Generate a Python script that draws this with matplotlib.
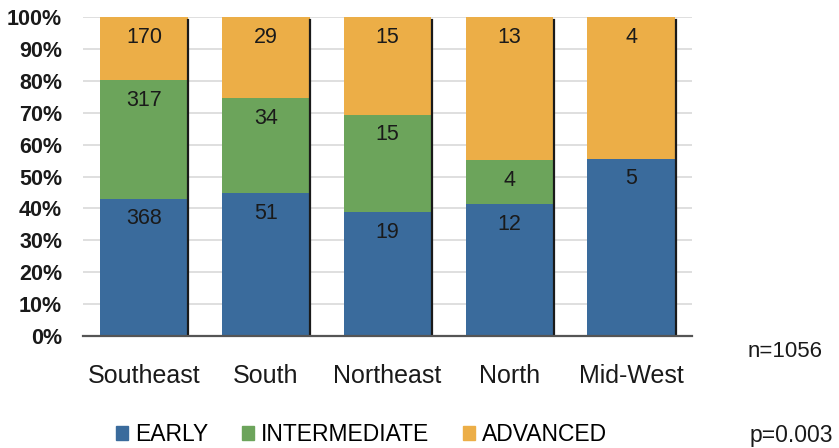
import numpy as np
import matplotlib
matplotlib.use('Agg')
from matplotlib import pyplot as plt
from matplotlib.patches import Patch

plt.rcParams['font.family'] = ['Liberation Sans', 'DejaVu Sans']

regions = ['Southeast', 'South', 'Northeast', 'North', 'Mid-West']
early = [368, 51, 19, 12, 5]
intermediate = [317, 34, 15, 4, 0]
advanced = [170, 29, 15, 13, 4]
stage_names = ['EARLY', 'INTERMEDIATE', 'ADVANCED']
stage_colors = ['#3A6B9C', '#6CA45B', '#ECAE47']

counts = np.array([early, intermediate, advanced], dtype=float)
totals = counts.sum(axis=0)
shares = counts / totals * 100

fig = plt.figure(figsize=(8.39, 4.48), dpi=100)
ax = fig.add_axes([0.099, 0.25, 0.726, 0.712])

x = np.arange(len(regions))
width = 0.72
bottom = np.zeros(len(regions))
for i in range(3):
    ax.bar(x, shares[i], width, bottom=bottom, color=stage_colors[i], zorder=2)
    tops = bottom + shares[i]
    for j in range(len(regions)):
        if counts[i, j] > 0:
            # label sits just inside the top of its segment
            ax.annotate(f'{int(counts[i, j])}', (x[j], tops[j]), xytext=(0, -20),
                        textcoords='offset pixels', ha='center', va='center',
                        fontsize=15.5, color='#1a1a1a', zorder=4)
    bottom = tops

# dark edge down the right side of each bar
for j in range(len(regions)):
    ax.plot([x[j] + width / 2 + 0.004] * 2, [0, 99], color='#1a1a1a', lw=1.6, zorder=3)

ax.set_xlim(-0.5, len(regions) - 0.5)
ax.set_ylim(0, 100)
ax.set_yticks(np.arange(0, 101, 10))
ax.set_yticklabels([f'{v}%' for v in range(0, 101, 10)], fontsize=15.5, fontweight='bold')
ax.set_xticks(x)
ax.set_xticklabels(regions, fontsize=18)
ax.tick_params(axis='both', length=0, colors='#1a1a1a')
ax.tick_params(axis='x', pad=20.5)
ax.tick_params(axis='y', pad=15)
ax.yaxis.grid(True, color='#D9D9D9', lw=1.2, zorder=0)
for s in ['top', 'right', 'left']:
    ax.spines[s].set_visible(False)
ax.spines['bottom'].set_color('#555555')
ax.spines['bottom'].set_linewidth(1.6)
ax.spines['bottom'].set_zorder(5)

handles = [Patch(color=c, label=n) for c, n in zip(stage_colors, stage_names)]
fig.legend(handles=handles, loc='center', bbox_to_anchor=(0.431, 0.03), ncol=3,
           frameon=False, fontsize=16.5, handlelength=0.55, handleheight=0.55,
           handletextpad=0.3, columnspacing=1.45, borderaxespad=0, borderpad=0)

fig.text(0.981, 0.215, f'n={int(totals.sum())}', ha='right', va='center', fontsize=16, color='#1a1a1a')
fig.text(0.993, 0.029, 'p=0.003', ha='right', va='center', fontsize=16.5, color='#1a1a1a')

fig.savefig('out.png', dpi=100)
